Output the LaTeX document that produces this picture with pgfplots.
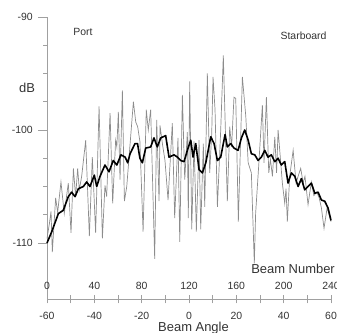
\documentclass[border=0pt]{standalone}
\usepackage{pgfplots}
\pgfplotsset{compat=1.18}
\usepackage{fontspec}
\setmainfont{Liberation Sans}
\definecolor{txt}{HTML}{333333}
\definecolor{ax}{HTML}{A0A0A0}
\definecolor{raw}{HTML}{8C8C8C}
\pgfplotstableread{
b db
0 -109.6
2 -108.3
3.4 -107.2
4.5 -110.8
7.3 -106.0
9 -107.3
11.8 -104.6
14.6 -107.4
18 -104.7
20.3 -109.1
22.3 -103.4
24.2 -105.9
25.9 -103.4
27.3 -105.3
29.3 -104.1
32.7 -100.9
35.8 -109.4
38.3 -102.4
41.1 -109.1
44 -97.9
46.8 -109.6
49 -104.9
50.4 -105.9
53.3 -98.5
55.5 -106.5
58 -100.9
59 -101.5
60.3 -98.4
61.7 -104.4
63.7 -96.5
65.4 -106.3
67.4 -105.0
73 -97.5
75 -99.3
76.6 -99.7
78.5 -101.0
81.2 -109.0
83.9 -98.2
85.6 -100.0
87.6 -98.2
91 -111.4
92.7 -99.1
94.7 -106.3
95.5 -99.6
97.5 -101.2
99.7 -102.7
102.3 -106.2
105.9 -99.4
107.9 -107.8
110.7 -100.7
112.2 -109.9
114.4 -96.9
116.4 -104.4
118.6 -100.2
119.4 -107.8
120.6 -95.7
122.3 -108.8
124.3 -101.0
126.2 -109.0
128.5 -100.9
129.9 -108.8
132.1 -101.2
133.3 -106.8
135.5 -95.0
137.5 -103.8
139.2 -100.3
140.3 -95.3
142 -98.2
144 -106.8
146.8 -100.0
149 -93.4
152.4 -106.3
154.4 -99.7
156 -101.5
158 -97.1
159.5 -97.2
161.7 -108.1
165.1 -95.3
168 -98.8
170 -102.9
172.7 -103.8
175.2 -111.8
176.3 -107.4
179 -103.0
182 -97.8
183.4 -102.9
185.4 -97.1
187.4 -103.8
188.8 -102.6
190.5 -104.1
192.5 -100.6
194 -103.8
195.3 -100.0
198.9 -104.7
200.9 -106.5
202 -105.2
203.1 -108.1
205.1 -104.1
208 -101.8
210.5 -104.7
212.2 -104.1
214.4 -103.4
216.5 -104.7
218 -104.1
220.6 -106.6
223.4 -104.6
225.5 -105.8
228 -105.5
230 -106.0
231.9 -106.9
234.1 -108.7
236.7 -106.9
240 -108.1
}\rawdata
\pgfplotstableread{
b db
0 -110.0
4 -109.0
9.6 -107.4
13.8 -107.1
18 -105.9
20.8 -105.5
23.7 -105.9
26.5 -105.2
30.7 -105.0
33.5 -104.6
36.3 -105.0
40 -104.0
42 -105.0
44.8 -104.1
49 -103.1
52.4 -103.7
56 -102.7
59 -103.1
62.5 -102.2
66 -102.4
68.2 -102.9
70.2 -102.1
74.4 -101.2
76.5 -101.2
78.5 -102.5
80.6 -102.9
83.4 -101.6
87.6 -101.5
90.4 -100.7
93.2 -101.5
96.1 -100.7
100.3 -100.5
103.1 -102.4
107.4 -102.2
110.2 -102.4
113 -102.7
115.8 -102.8
118.6 -101.8
121.5 -100.9
123.4 -102.4
125.7 -101.2
128.5 -103.5
131.3 -103.8
134.2 -102.9
138.4 -100.6
141.2 -101.2
144 -102.7
146.8 -102.4
150.5 -100.4
152.4 -101.5
155.3 -101.2
158 -101.6
161.5 -101.8
164.3 -100.7
167.1 -100.0
170 -100.9
172.7 -102.1
175.6 -102.2
178.4 -102.7
181.2 -102.4
184 -101.8
186.8 -102.4
189.6 -102.2
192.5 -102.8
195.3 -102.5
198 -103.1
200.9 -102.8
203.7 -104.7
206.5 -103.8
209.4 -104.1
212.2 -105.0
215 -104.3
217.8 -105.3
220.6 -105.0
223.4 -104.7
226.3 -105.6
229.1 -105.5
231.9 -106.2
234.7 -106.3
237.5 -106.9
240 -108.0
}\smoothdata
\begin{document}
\begin{tikzpicture}
\begin{axis}[at={(0,0)}, anchor=south west, scale only axis,
  width=284bp, height=282.5bp,
  xmin=0, xmax=240, ymin=-115, ymax=-90, clip=false,
  axis x line=bottom, axis y line=left,
  axis line style={-, draw=ax, line width=0.8bp},
  x axis line style={draw=none},
  xtick={0,40,...,240}, xticklabels={0,40,80,120,160,200,240},
  x tick style={draw=none},
  ytick={-110,-100,-90}, yticklabels={-110,-100,-90},
  minor ytick={-107.5,-105,-102.5,-97.5,-95,-92.5},
  tick align=outside, y tick style={draw=ax, line width=0.8bp},
  major tick length=9bp, minor tick length=4bp,
  tick label style={font=\fontsize{10.5}{12}\selectfont, text=txt},
  xticklabel style={anchor=center, yshift=23bp},
  yticklabel style={anchor=east, inner sep=0pt, xshift=-5bp},
]
\addplot[raw, line width=0.7bp] table[x=b, y=db] {\rawdata};
\addplot[black, line width=1.6bp, line join=round] table[x=b, y=db] {\smoothdata};
\node[text=txt, font=\fontsize{13}{15}\selectfont] at (axis cs:-16.9,-96.28) {dB};
\node[text=txt, font=\fontsize{10.5}{12}\selectfont] at (axis cs:30.4,-91.33) {Port};
\node[text=txt, font=\fontsize{10.5}{12}\selectfont] at (axis cs:216.8,-91.64) {Starboard};
\node[text=txt, font=\fontsize{13}{15}\selectfont, anchor=east, inner sep=0pt] at (axis cs:243.4,-112.3) {Beam Number};
\node[text=txt, font=\fontsize{13}{15}\selectfont] at (axis cs:123.8,-117.5) {Beam Angle};
\coordinate (bbSW) at (axis cs:-39.72,-117.965);
\coordinate (bbNE) at (axis cs:245.07,-88.496);
\end{axis}
\begin{axis}[at={(0,0)}, anchor=south west, scale only axis,
  width=284bp, height=282.5bp,
  xmin=0, xmax=240, ymin=-115, ymax=-90,
  axis x line=bottom, axis y line=none, ytick=\empty,
  axis line style={-, draw=ax, line width=0.8bp},
  xtick={0,40,...,240}, xticklabels={-60,-40,-20,0,20,40,60},
  minor xtick={20,60,...,220},
  tick align=center, major tick length=8bp, minor tick length=8bp,
  tick style={draw=ax, line width=0.8bp},
  tick label style={font=\fontsize{10.5}{12}\selectfont, text=txt},
  xticklabel style={anchor=center, yshift=-12bp},
]
\end{axis}
\pgfresetboundingbox
\useasboundingbox (bbSW) rectangle (bbNE);
\end{tikzpicture}
\end{document}
